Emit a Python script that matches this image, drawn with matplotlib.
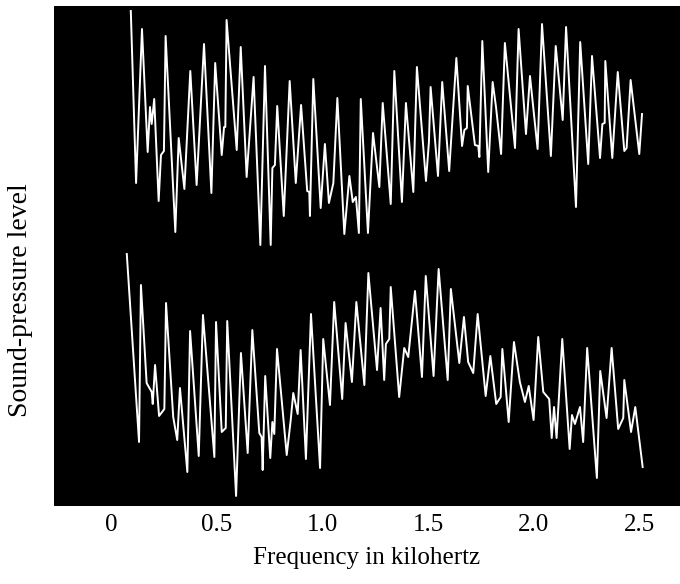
from matplotlib import pyplot as plt

# upper spectrum: frequency (kHz), level (relative units)
freq_a = [0.091, 0.116, 0.144, 0.171, 0.182, 0.190, 0.202, 0.223, 0.234, 0.248,
          0.256, 0.302, 0.318, 0.345, 0.373, 0.403, 0.438, 0.473, 0.491, 0.522,
          0.533, 0.539, 0.545, 0.593, 0.612, 0.640, 0.673, 0.705, 0.727, 0.754,
          0.762, 0.774, 0.785, 0.816, 0.844, 0.873, 0.898, 0.927, 0.937, 0.940,
          0.956, 0.991, 1.011, 1.030, 1.051, 1.070, 1.103, 1.127, 1.143, 1.158,
          1.172, 1.181, 1.215, 1.239, 1.269, 1.285, 1.323, 1.340, 1.376, 1.395,
          1.430, 1.447, 1.490, 1.504, 1.512, 1.547, 1.567, 1.600, 1.634, 1.661,
          1.672, 1.684, 1.688, 1.722, 1.738, 1.743, 1.757, 1.785, 1.806, 1.822,
          1.846, 1.864, 1.912, 1.929, 1.964, 1.983, 2.019, 2.040, 2.082, 2.105,
          2.138, 2.154, 2.201, 2.221, 2.259, 2.277, 2.315, 2.326, 2.337, 2.340,
          2.373, 2.399, 2.430, 2.441, 2.460, 2.501, 2.514]
level_a = [49.5, 32.3, 47.7, 35.4, 39.9, 38.2, 40.7, 30.5, 35.1, 35.5,
           47.0, 27.4, 36.8, 31.7, 43.5, 32.1, 46.2, 31.3, 44.3, 35.1,
           37.9, 37.9, 48.6, 35.6, 45.9, 32.9, 42.9, 26.1, 44.0, 26.1,
           33.8, 34.1, 40.0, 29.0, 42.5, 32.3, 40.1, 31.5, 31.4, 29.0,
           42.7, 29.8, 36.2, 30.3, 32.3, 40.8, 27.2, 33.0, 30.4, 30.9,
           27.3, 40.7, 27.3, 37.3, 31.9, 40.3, 30.2, 43.5, 30.4, 40.3,
           31.4, 43.9, 32.5, 36.4, 41.9, 33.0, 42.4, 33.5, 44.8, 36.0,
           37.6, 37.8, 42.0, 36.1, 36.0, 34.9, 46.5, 33.4, 42.4, 39.9,
           35.2, 46.3, 35.8, 47.7, 37.2, 43.0, 35.7, 48.2, 35.0, 46.0,
           38.6, 47.9, 29.9, 46.4, 34.2, 45.0, 34.8, 38.2, 38.3, 44.5,
           34.8, 43.4, 35.5, 35.8, 42.6, 35.2, 39.2]

# lower spectrum
freq_b = [0.072, 0.130, 0.139, 0.166, 0.190, 0.195, 0.206, 0.225, 0.250, 0.258,
          0.292, 0.311, 0.324, 0.359, 0.372, 0.413, 0.433, 0.487, 0.495, 0.522,
          0.541, 0.548, 0.590, 0.613, 0.645, 0.667, 0.700, 0.711, 0.716, 0.728,
          0.752, 0.762, 0.771, 0.784, 0.830, 0.849, 0.861, 0.882, 0.896, 0.921,
          0.945, 0.988, 1.003, 1.035, 1.055, 1.093, 1.109, 1.139, 1.160, 1.198,
          1.217, 1.258, 1.275, 1.292, 1.300, 1.316, 1.323, 1.363, 1.387, 1.406,
          1.438, 1.471, 1.489, 1.526, 1.550, 1.593, 1.608, 1.648, 1.670, 1.690,
          1.714, 1.735, 1.773, 1.795, 1.823, 1.844, 1.852, 1.860, 1.882, 1.907,
          1.935, 1.959, 1.977, 2.000, 2.022, 2.046, 2.074, 2.086, 2.097, 2.109,
          2.136, 2.171, 2.182, 2.196, 2.220, 2.235, 2.254, 2.300, 2.316, 2.346,
          2.370, 2.401, 2.425, 2.430, 2.462, 2.482, 2.517]
level_b = [25.2, 6.4, 22.1, 12.3, 11.4, 10.2, 14.1, 9.0, 9.7, 20.3,
           8.9, 6.6, 11.8, 3.4, 17.5, 5.0, 19.1, 4.9, 18.4, 7.4,
           7.8, 18.5, 1.0, 15.3, 5.3, 17.6, 7.3, 6.9, 3.6, 13.0,
           4.8, 8.4, 7.2, 15.7, 5.1, 8.6, 11.3, 9.2, 15.6, 4.7,
           19.2, 3.8, 16.7, 10.1, 20.4, 10.7, 18.3, 12.4, 20.4, 12.1,
           23.3, 13.6, 19.8, 12.6, 16.2, 16.7, 21.9, 10.9, 15.8, 14.9,
           21.5, 12.9, 23.0, 13.0, 23.7, 12.6, 21.7, 14.3, 18.9, 14.4,
           13.3, 19.2, 11.0, 15.0, 10.2, 10.9, 15.7, 13.8, 8.4, 16.4,
           12.4, 10.4, 12.0, 8.6, 16.9, 11.4, 10.7, 6.8, 9.9, 6.8,
           16.7, 5.7, 9.1, 8.2, 9.9, 6.4, 15.8, 2.8, 13.5, 8.8,
           15.8, 7.7, 8.8, 12.6, 7.4, 9.9, 3.9]

ticks = [0, 0.5, 1.0, 1.5, 2.0, 2.5]
tick_labels = ['0', '0.5', '1.0', '1.5', '2.0', '2.5']

plt.rcParams['font.family'] = ['Liberation Serif', 'DejaVu Serif']

fig = plt.figure(figsize=(6.8, 5.84), dpi=100)
ax = fig.add_axes([54 / 680, 78 / 584, 626 / 680, 500 / 584])
ax.set_facecolor('black')

ax.plot(freq_a, level_a, color='white', lw=1.4)
ax.plot(freq_b, level_b, color='white', lw=1.4)

ax.set_xlim(-0.273, 2.694)
ax.set_ylim(0, 50)
ax.set_xticks(ticks)
ax.set_xticklabels(tick_labels, fontsize=18)
ax.set_yticks([])
ax.tick_params(axis='x', length=0, pad=6)
for s in ax.spines.values():
    s.set_visible(False)

ax.set_xlabel('Frequency in kilohertz', fontsize=18, labelpad=8)
fig.text(21 / 680, 1 - 300 / 584, 'Sound-pressure level', rotation=90,
         fontsize=20, ha='center', va='center')

fig.savefig('out.png', dpi=100)
